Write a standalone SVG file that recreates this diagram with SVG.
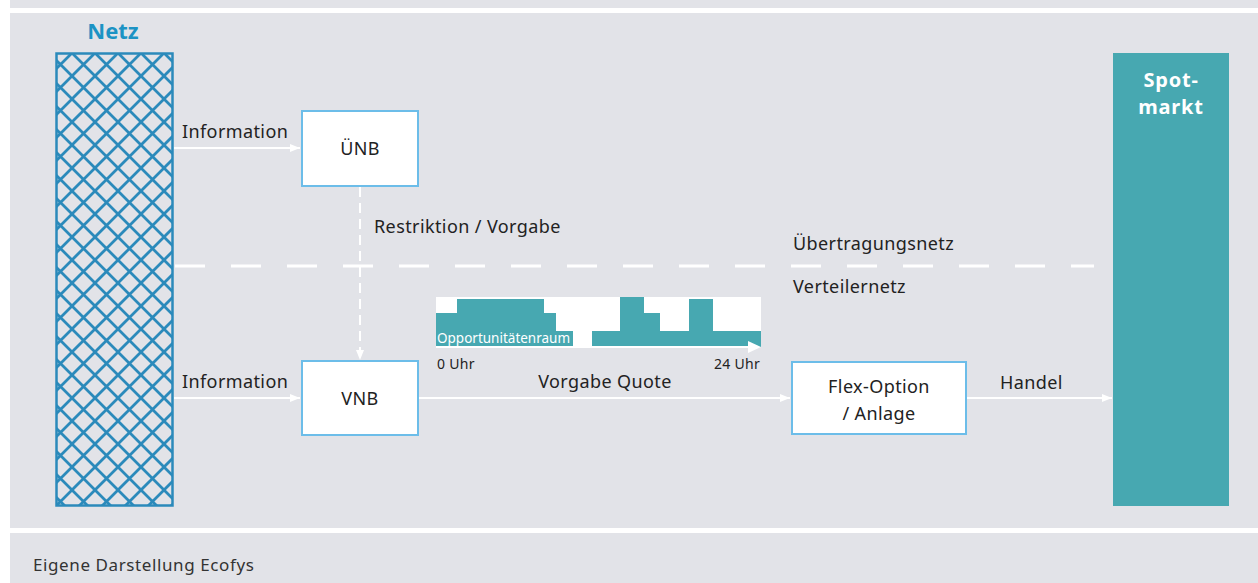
<svg xmlns="http://www.w3.org/2000/svg" width="1258" height="583" viewBox="0 0 1258 583">
  <style>
    .t { font-family: "Noto Sans", "DejaVu Sans", sans-serif; fill: #222; }
    .lbl { font-size: 18px; letter-spacing: 0.4px; }
    .small { font-size: 14px; letter-spacing: 0.3px; }
    .head2 { font-size: 22px; font-weight: bold; }
    .box { fill: #ffffff; stroke: #6cbde9; stroke-width: 2; }
    .wire { stroke: #ffffff; stroke-width: 2; fill: none; }
    .head { fill: #ffffff; }
  </style>
  <defs>
    <pattern id="grid" patternUnits="userSpaceOnUse" x="72" y="53" width="23" height="23">
      <path d="M0,0 L23,23 M23,0 L0,23 M-2,21 L2,25 M21,-2 L25,2 M-2,2 L2,-2 M21,25 L25,21" stroke="#2b8abb" stroke-width="2.8" fill="none"/>
    </pattern>
    <marker id="arrow" markerWidth="10" markerHeight="10" refX="10" refY="5" orient="auto" markerUnits="userSpaceOnUse">
      <path class="head" d="M0,1 L10,5 L0,9 Z"/>
    </marker>
  </defs>

  <!-- page background and panels -->
  <rect x="0" y="0" width="1258" height="583" fill="#ffffff"/>
  <rect x="10" y="0" width="1248" height="8" fill="#e2e3e8"/>
  <rect x="10" y="13" width="1248" height="515" fill="#e2e3e8"/>
  <rect x="10" y="533" width="1248" height="50" fill="#e2e3e8"/>

  <!-- grid column -->
  <g id="netz">
    <text class="t head2" x="113" y="39" text-anchor="middle" style="fill:#1c93c4">Netz</text>
    <rect x="56.5" y="53.5" width="116" height="452" fill="url(#grid)" stroke="#2b8abb" stroke-width="2.5"/>
  </g>

  <!-- spot market column -->
  <g id="spotmarkt">
    <rect x="1113" y="53" width="116" height="453" fill="#47a8b1"/>
    <text class="t" x="1171" y="87" font-size="20" font-weight="bold" letter-spacing="0.8" text-anchor="middle" style="fill:#ffffff">Spot-</text>
    <text class="t" x="1171" y="114" font-size="20" font-weight="bold" letter-spacing="0.8" text-anchor="middle" style="fill:#ffffff">markt</text>
  </g>

  <!-- grid level separator -->
  <g id="separator">
    <line x1="175" y1="266" x2="1094" y2="266" stroke="#ffffff" stroke-width="3" stroke-dasharray="30 26"/>
    <text class="t lbl" x="793" y="250">Übertragungsnetz</text>
    <text class="t lbl" x="793" y="293">Verteilernetz</text>
  </g>

  <!-- connectors -->
  <g id="connectors">
    <line class="wire" x1="174" y1="148" x2="300" y2="148" marker-end="url(#arrow)"/>
    <line class="wire" x1="174" y1="398" x2="300" y2="398" marker-end="url(#arrow)"/>
    <line class="wire" x1="360" y1="187" x2="360" y2="360" stroke-width="3" stroke-dasharray="10 6" marker-end="url(#arrow)"/>
    <line class="wire" x1="419" y1="398" x2="790" y2="398" marker-end="url(#arrow)"/>
    <line class="wire" x1="967" y1="398" x2="1112" y2="398" marker-end="url(#arrow)"/>
    <text class="t lbl" x="182" y="138">Information</text>
    <text class="t lbl" x="182" y="388">Information</text>
    <text class="t lbl" x="374" y="233">Restriktion / Vorgabe</text>
    <text class="t lbl" x="605" y="388" text-anchor="middle">Vorgabe Quote</text>
    <text class="t lbl" x="1000" y="389">Handel</text>
  </g>

  <g id="uenb">
    <rect class="box" x="302" y="111" width="116" height="75"/>
    <text class="t lbl" x="360" y="155" text-anchor="middle">ÜNB</text>
  </g>

  <g id="vnb">
    <rect class="box" x="302" y="361" width="116" height="74"/>
    <text class="t lbl" x="360" y="405" text-anchor="middle">VNB</text>
  </g>

  <g id="flex">
    <rect class="box" x="792" y="362" width="174" height="72"/>
    <text class="t lbl" x="879" y="393" text-anchor="middle">Flex-Option</text>
    <text class="t lbl" x="879" y="420" text-anchor="middle">/ Anlage</text>
  </g>

  <!-- daily quota profile -->
  <g id="profil">
    <rect x="436" y="297" width="325" height="50" fill="#ffffff"/>
    <path d="M436,313 H457 V299 H544 V313 H556 V331 H573 V347 H436 Z" fill="#47a8b1"/>
    <path d="M592,331 H620 V297 H644 V313 H660 V331 H689 V299 H713 V331 H761 V347 H592 Z" fill="#47a8b1"/>
    <line x1="436" y1="347" x2="750" y2="347" stroke="#ffffff" stroke-width="2"/>
    <path d="M748,341 L761,347 L748,353 Z" fill="#ffffff"/>
    <text class="t" x="437" y="343" font-size="13.5" style="fill:#ffffff">Opportunitätenraum</text>
    <text class="t small" x="437" y="369">0 Uhr</text>
    <text class="t small" x="760" y="369" text-anchor="end">24 Uhr</text>
  </g>

  <text class="t" x="33" y="571" font-size="17" letter-spacing="0.6" style="fill:#333">Eigene Darstellung Ecofys</text>
</svg>
